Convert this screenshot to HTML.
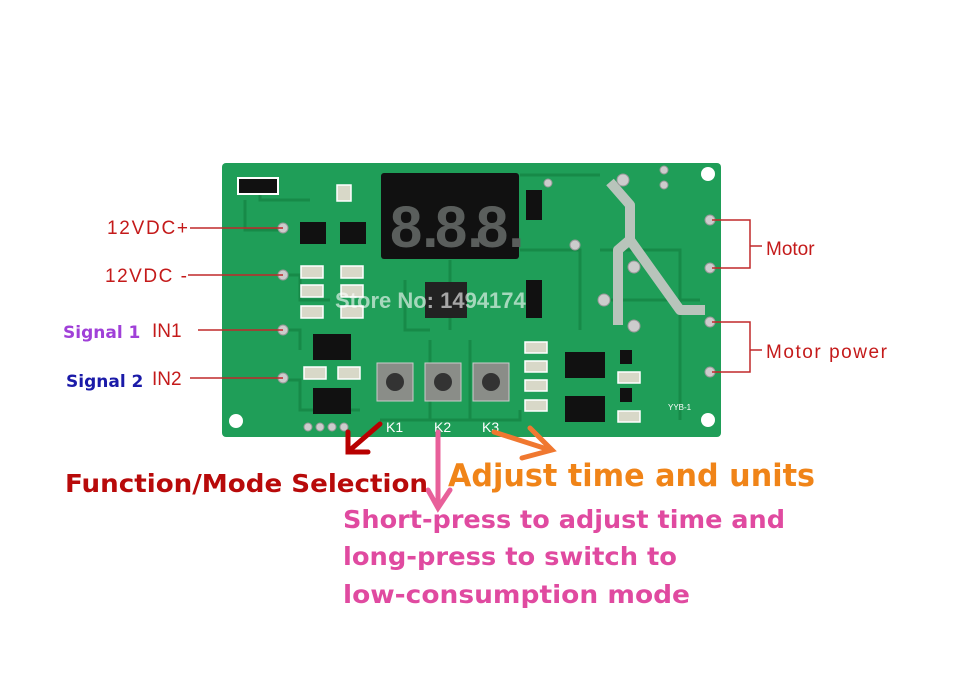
<!DOCTYPE html>
<html><head><meta charset="utf-8"><style>
body{margin:0;background:#fff;}
svg{display:block}
.t{font-family:"DejaVu Sans","Liberation Sans",sans-serif;font-weight:bold}
.l{font-family:"Liberation Sans",sans-serif}
</style></head><body>
<svg width="963" height="700" viewBox="0 0 963 700" xmlns="http://www.w3.org/2000/svg">
<rect width="963" height="700" fill="#fff"/>
<rect x="222" y="163" width="499" height="274" rx="4" fill="#1f9e58"/>
<g stroke="#178a48" stroke-width="3" fill="none">
<path d="M245 200 V230 H283"/><path d="M283 275 H300 V300 H330"/><path d="M283 330 H300 V350"/>
<path d="M283 380 H300 V410 H360"/><path d="M405 280 V330 H430"/><path d="M430 340 V420"/>
<path d="M470 340 V420"/><path d="M520 175 H600"/><path d="M380 420 H520 V410"/>
<path d="M520 250 H580 V330"/><path d="M600 250 H680 V420"/><path d="M600 300 H700"/>
<path d="M260 180 V200 H310"/><path d="M450 260 V330"/>
</g>
<path d="M610 182 L630 205 V240 L680 310 H705" stroke="#b8c4bb" stroke-width="10" fill="none" stroke-linejoin="round"/>
<path d="M632 238 L618 250 V325" stroke="#b8c4bb" stroke-width="10" fill="none" stroke-linejoin="round"/>
<circle cx="236" cy="421" r="7" fill="#fff"/><circle cx="708" cy="174" r="7" fill="#fff"/><circle cx="708" cy="420" r="7" fill="#fff"/>
<rect x="381" y="173" width="138" height="86" rx="3" fill="#111"/>
<g class="l" font-size="58" fill="#5a5e5c" font-weight="bold">
<text x="390" y="247">8.</text><text x="435" y="247">8.</text><text x="476" y="247">8.</text></g>
<rect x="425" y="282" width="42" height="36" fill="#222"/>
<g fill="#111">
<rect x="238" y="178" width="40" height="16" stroke="#fff" stroke-width="2"/>
<rect x="300" y="222" width="26" height="22"/><rect x="340" y="222" width="26" height="22"/>
<rect x="313" y="334" width="38" height="26"/><rect x="313" y="388" width="38" height="26"/>
<rect x="565" y="352" width="40" height="26"/><rect x="565" y="396" width="40" height="26"/>
<rect x="526" y="190" width="16" height="30"/><rect x="526" y="280" width="16" height="38"/>
<rect x="620" y="350" width="12" height="14"/><rect x="620" y="388" width="12" height="14"/>
</g>
<g fill="#d8d8c8" stroke="#fff" stroke-width="1.5">
<rect x="301" y="266" width="22" height="12"/><rect x="341" y="266" width="22" height="12"/>
<rect x="301" y="285" width="22" height="12"/><rect x="341" y="285" width="22" height="12"/>
<rect x="301" y="306" width="22" height="12"/><rect x="341" y="306" width="22" height="12"/>
<rect x="304" y="367" width="22" height="12"/><rect x="338" y="367" width="22" height="12"/>
<rect x="525" y="342" width="22" height="11"/><rect x="525" y="361" width="22" height="11"/>
<rect x="525" y="380" width="22" height="11"/><rect x="525" y="400" width="22" height="11"/>
<rect x="618" y="372" width="22" height="11"/><rect x="618" y="411" width="22" height="11"/>
<rect x="337" y="185" width="14" height="16"/>
</g>
<g>
<rect x="377" y="363" width="36" height="38" fill="#8a8d88" stroke="#ccc"/><circle cx="395" cy="382" r="9" fill="#333"/>
<rect x="425" y="363" width="36" height="38" fill="#8a8d88" stroke="#ccc"/><circle cx="443" cy="382" r="9" fill="#333"/>
<rect x="473" y="363" width="36" height="38" fill="#8a8d88" stroke="#ccc"/><circle cx="491" cy="382" r="9" fill="#333"/>
</g>
<g fill="#ccc" stroke="#999">
<circle cx="283" cy="228" r="5"/><circle cx="283" cy="275" r="5"/><circle cx="283" cy="330" r="5"/><circle cx="283" cy="378" r="5"/>
<circle cx="710" cy="220" r="5"/><circle cx="710" cy="268" r="5"/><circle cx="710" cy="322" r="5"/><circle cx="710" cy="372" r="5"/>
<circle cx="308" cy="427" r="4"/><circle cx="320" cy="427" r="4"/><circle cx="332" cy="427" r="4"/><circle cx="344" cy="427" r="4"/>
<circle cx="575" cy="245" r="5"/><circle cx="604" cy="300" r="6"/><circle cx="634" cy="267" r="6"/><circle cx="634" cy="326" r="6"/>
<circle cx="623" cy="180" r="6"/><circle cx="664" cy="170" r="4"/><circle cx="664" cy="185" r="4"/><circle cx="548" cy="183" r="4"/>
</g>
<g class="l" font-size="8" fill="#fff"><text x="668" y="410">YYB-1</text></g>
<text class="l" x="335" y="308" font-size="22" font-weight="bold" fill="#fff" fill-opacity="0.6">Store No: 1494174</text>
<g class="l" font-size="14" fill="#fff"><text x="386" y="432">K1</text><text x="434" y="432">K2</text><text x="482" y="432">K3</text></g>
<g stroke="#c0282a" stroke-width="1.5">
<line x1="190" y1="228" x2="283" y2="228"/><line x1="188" y1="275" x2="283" y2="275"/>
<line x1="198" y1="330" x2="283" y2="330"/><line x1="190" y1="378" x2="283" y2="378"/>
<polyline points="712,220 750,220 750,268 712,268" fill="none"/><line x1="750" y1="246" x2="762" y2="246"/>
<polyline points="712,322 750,322 750,372 712,372" fill="none"/><line x1="750" y1="350" x2="762" y2="350"/>
</g>
<g class="l" font-size="19" fill="#c41a1a">
<text x="107" y="234" textLength="81">12VDC+</text><text x="105" y="282" textLength="82">12VDC -</text>
<text x="152" y="337">IN1</text><text x="152" y="385">IN2</text>
<text x="766" y="255">Motor</text><text x="766" y="358" textLength="121">Motor power</text>
</g>
<text class="t" x="63" y="338" font-size="17" fill="#a040d8">Signal 1</text>
<text class="t" x="66" y="387" font-size="17" fill="#1a1aa8">Signal 2</text>
<g stroke-width="5" fill="none" stroke-linecap="round">
<path d="M380 424 L350 450 M348 432 L348 452 L368 452" stroke="#b80000"/>
<path d="M438 432 V508 M428 490 L438 508 L450 490" stroke="#e8609a"/>
<path d="M494 432 L550 450 M530 428 L552 450 L522 458" stroke="#f07830"/>
</g>
<text class="t" x="65" y="492" font-size="25" fill="#b80a0a" textLength="363" lengthAdjust="spacingAndGlyphs">Function/Mode Selection</text>
<text class="t" x="448" y="486" font-size="31" fill="#f08418" textLength="367" lengthAdjust="spacingAndGlyphs">Adjust time and units</text>
<g class="t" font-size="25" fill="#e04aa0">
<text x="343" y="528" textLength="442" lengthAdjust="spacingAndGlyphs">Short-press to adjust time and</text>
<text x="343" y="565" textLength="334" lengthAdjust="spacingAndGlyphs">long-press to switch to</text>
<text x="343" y="603" textLength="347" lengthAdjust="spacingAndGlyphs">low-consumption mode</text>
</g>
</svg>
</body></html>
